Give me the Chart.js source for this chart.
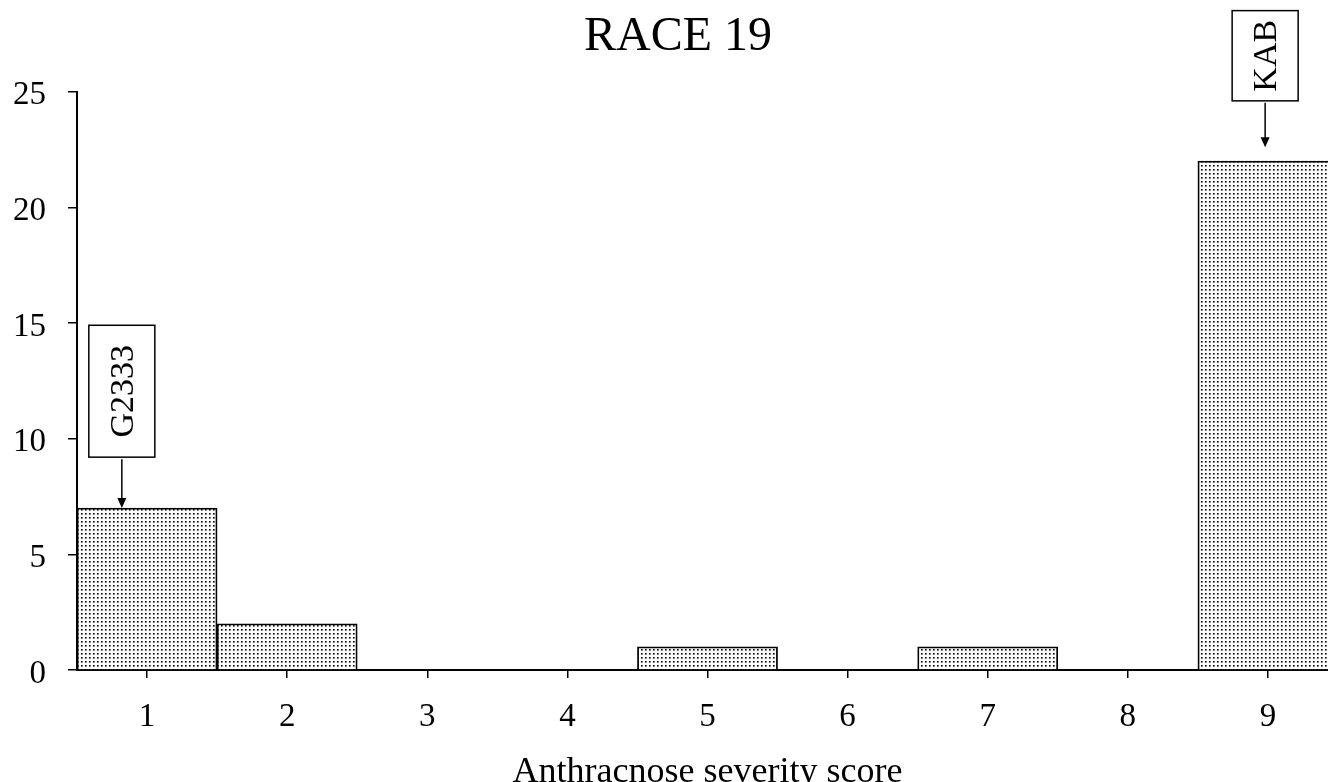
<!DOCTYPE html>
<html>
<head>
<meta charset="utf-8">
<script src="https://cdn.jsdelivr.net/npm/chart.js@4"></script>
<style>
  body { margin: 0; background: #fff; overflow: hidden; }
  #wrap { width: 1328px; height: 782px; overflow: hidden; }
</style>
</head>
<body>
<div id="wrap"><canvas id="chart" width="1338" height="806"></canvas></div>
<script>
const scores = ['1', '2', '3', '4', '5', '6', '7', '8', '9'];
const counts = [7, 2, 0, 0, 1, 0, 1, 0, 22];
const yMax = 25;
const yStep = 5;

// labelled genotypes: bar index, label, arrow tip / box bottom / box top in y units
const markerBars = [0, 8];
const markerNames = ['G2333', 'KAB'];
const markerTip = [7, 22.6];
const markerBoxLow = [9.2, 24.6];
const markerBoxHigh = [14.9, 28.5];

const FONT = "'Liberation Serif', 'Times New Roman', serif";

function dotPattern() {
    const c = document.createElement('canvas');
    c.width = 4;
    c.height = 4;
    const g = c.getContext('2d');
    g.fillStyle = '#fff';
    g.fillRect(0, 0, 4, 4);
    g.fillStyle = '#000';
    g.fillRect(1, 1, 1, 1);
    g.fillStyle = '#666';
    g.fillRect(2, 1, 1, 1);
    g.fillRect(1, 2, 1, 1);
    g.fillStyle = '#999';
    g.fillRect(2, 2, 1, 1);
    return g.createPattern(c, 'repeat');
}

// title sits over the plot rather than the whole canvas
const titleShift = {
    id: 'titleShift',
    afterLayout(chart) {
        if (chart.titleBlock) chart.titleBlock.left += 18;
    }
};

const markerPlugin = {
    id: 'markers',
    afterDatasetsDraw(chart) {
        const { ctx, scales: { x, y } } = chart;
        const step = x.getPixelForValue(1) - x.getPixelForValue(0);
        const shifts = [-0.18, -0.02];
        ctx.save();
        markerBars.forEach((bar, i) => {
            const cx = x.getPixelForValue(bar) + shifts[i] * step;
            const top = y.getPixelForValue(markerBoxHigh[i]);
            const bottom = y.getPixelForValue(markerBoxLow[i]);
            const tip = y.getPixelForValue(markerTip[i]);
            const w = 66;

            ctx.fillStyle = '#fff';
            ctx.fillRect(cx - w / 2, top, w, bottom - top);
            ctx.strokeStyle = '#000';
            ctx.lineWidth = 1.5;
            ctx.strokeRect(cx - w / 2, top, w, bottom - top);

            ctx.beginPath();
            ctx.moveTo(cx, bottom + 2);
            ctx.lineTo(cx, tip - 8);
            ctx.stroke();
            ctx.beginPath();
            ctx.moveTo(cx - 4.5, tip - 10);
            ctx.lineTo(cx + 4.5, tip - 10);
            ctx.lineTo(cx, tip);
            ctx.closePath();
            ctx.fillStyle = '#000';
            ctx.fill();

            ctx.save();
            ctx.translate(cx, (top + bottom) / 2);
            ctx.rotate(-Math.PI / 2);
            ctx.font = '34px ' + FONT;
            ctx.textAlign = 'center';
            ctx.textBaseline = 'middle';
            ctx.fillText(markerNames[i], 0, 2);
            ctx.restore();
        });
        ctx.restore();
    }
};

const chart = new Chart(document.getElementById('chart'), {
    type: 'bar',
    data: {
        labels: scores,
        datasets: [
            {
                data: counts,
                backgroundColor: dotPattern(),
                borderColor: '#000',
                borderWidth: 1.8,
                barPercentage: 1,
                categoryPercentage: 1,
            },
        ],
    },
    options: {
        responsive: false,
        animation: false,
        layout: { padding: 0 },
        scales: {
            x: {
                grid: {
                    offset: false,
                    drawOnChartArea: false,
                    color: '#000',
                    lineWidth: 1.5,
                    tickLength: 8
                },
                border: { color: '#000', width: 2 },
                ticks: {
                    color: '#000',
                    padding: 20,
                    font: { family: FONT, size: 33 }
                },
                title: {
                    display: true,
                    text: 'Anthracnose severity score',
                    color: '#000',
                    padding: { top: 0, bottom: 12 },
                    font: { family: FONT, size: 36 }
                },
                afterFit(scale) { scale.height = 136; }
            },
            y: {
                min: 0,
                max: yMax,
                ticks: {
                    stepSize: yStep,
                    color: '#000',
                    padding: 22,
                    labelOffset: 4,
                    font: { family: FONT, size: 33 }
                },
                grid: {
                    drawOnChartArea: false,
                    color: '#000',
                    lineWidth: 1.5,
                    tickLength: 9
                },
                border: { color: '#000', width: 2 },
                afterFit(scale) { scale.width = 77; }
            }
        },
        plugins: {
            legend: { display: false },
            tooltip: { enabled: false },
            title: {
                display: true,
                text: 'RACE 19',
                color: '#000',
                padding: { top: 9, bottom: 25 },
                font: { family: FONT, size: 48, weight: 'normal' }
            }
        }
    },
    plugins: [titleShift, markerPlugin]
});
</script>
</body>
</html>
